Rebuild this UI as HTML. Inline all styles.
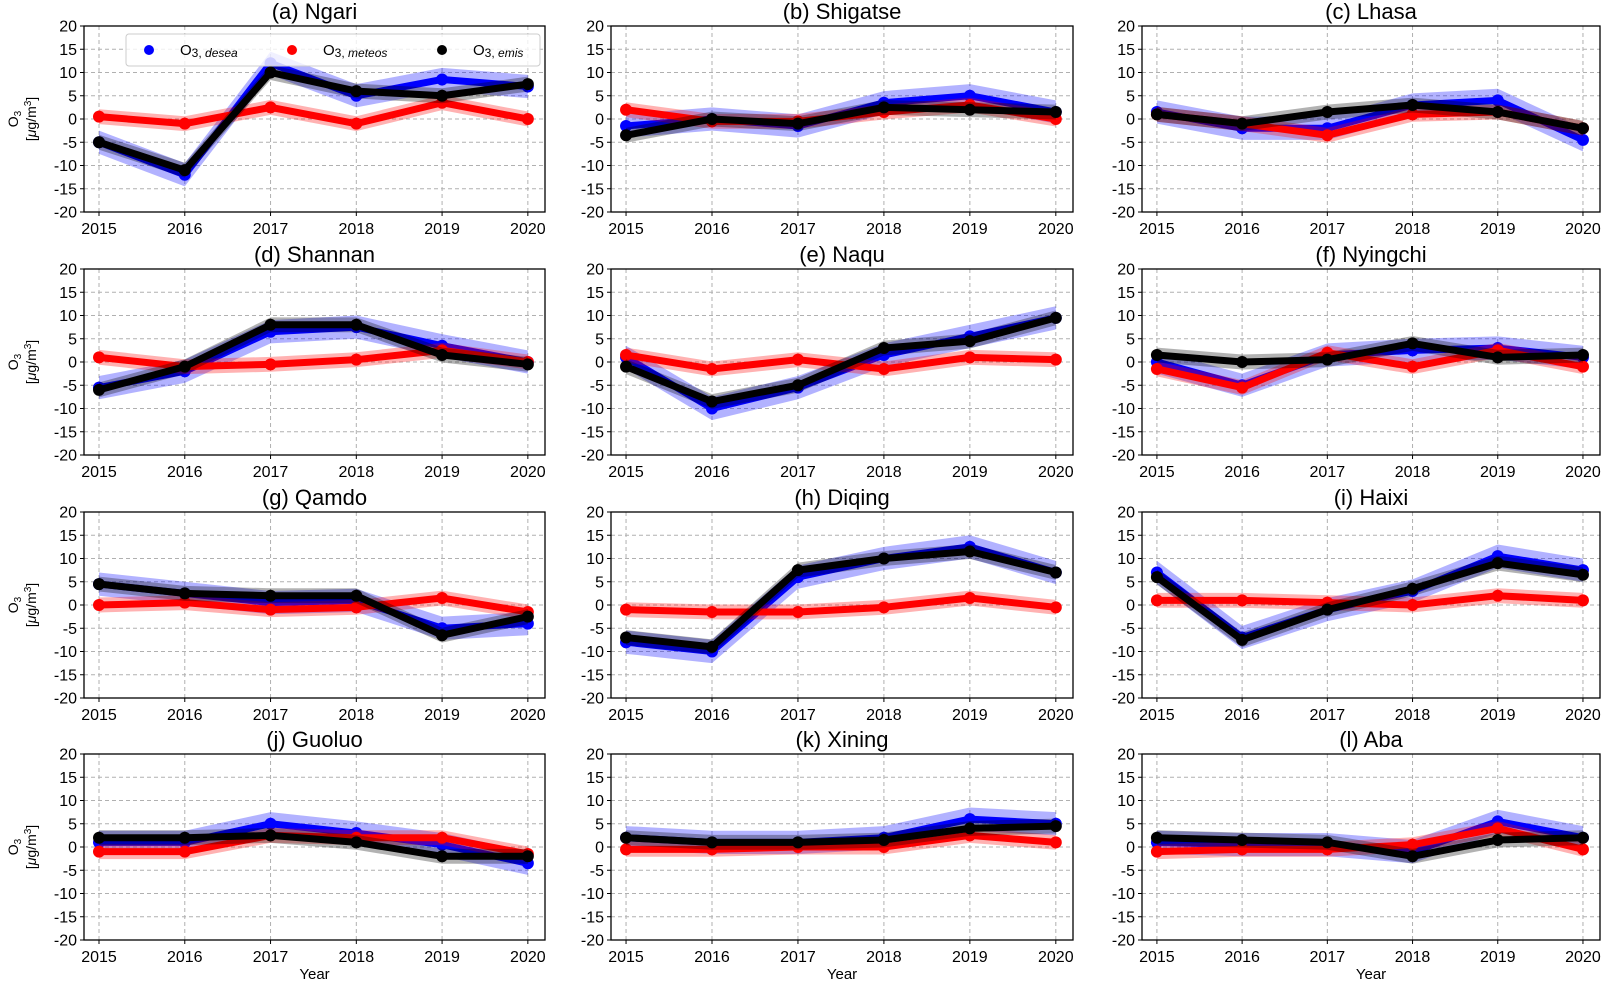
<!DOCTYPE html>
<html><head><meta charset="utf-8"><style>
body{margin:0;background:#fff;}
svg{display:block;font-family:"Liberation Sans",sans-serif;}
</style></head><body>
<svg id="fig" width="1602" height="982" viewBox="0 0 1602 982"></svg>
<script>
const years = [2015, 2016, 2017, 2018, 2019, 2020];
const yTicks = [20, 15, 10, 5, 0, -5, -10, -15, -20];
const titles = ["(a) Ngari","(b) Shigatse","(c) Lhasa","(d) Shannan","(e) Naqu","(f) Nyingchi","(g) Qamdo","(h) Diqing","(i) Haixi","(j) Guoluo","(k) Xining","(l) Aba"];
const deseaVals = [
 [-5,-12,12,5,8.5,7],[-1.5,0,-1.5,3.5,5,1.5],[1.5,-2,-2,3,4,-4.5],
 [-5.5,-2,6.5,7.5,3.5,0],[1,-10,-5.5,1.5,5.5,9.5],[0,-5,1.5,2.5,3,1],
 [4.5,2.5,0.5,1,-5,-4],[-8,-10,6,10,12.5,7],[7,-7,-1,3,10.5,7.5],
 [1,1,5,3,0.5,-3.5],[2,1,1,2,6,5],[1,0.5,0.5,-1,5.5,2]];
const meteosVals = [
 [0.5,-1,2.5,-1,3.5,0],[2,-0.5,-0.5,1.5,3,0],[1,-1,-3.5,1,1.5,-2],
 [1,-1,-0.5,0.5,2.5,0],[1.5,-1.5,0.5,-1.5,1,0.5],[-1.5,-5.5,2,-1,2.5,-1],
 [0,0.5,-1,-0.5,1.5,-1.5],[-1,-1.5,-1.5,-0.5,1.5,-0.5],[1,1,0.5,0,2,1],
 [-1,-1,2.5,2,2,-1.5],[-0.5,-0.5,0,0,2.5,1],[-1,-0.5,-0.5,0.5,4,-0.5]];
const emisVals = [
 [-5,-11,10,6,5,7.5],[-3.5,0,-1,2.5,2,1.5],[1,-1,1.5,3,1.5,-2],
 [-6,-1,8,8,1.5,-0.5],[-1,-8.5,-5,3,4.5,9.5],[1.5,0,0.5,4,1,1.5],
 [4.5,2.5,2,2,-6.5,-2.5],[-7,-9,7.5,10,11.5,7],[6,-7.5,-1,3.5,9,6.5],
 [2,2,2.5,1,-2,-2],[2,1,1,1.5,4,4.5],[2,1.5,1,-2,1.5,2]];
const bandHalf = [2.5, 1.6, 1.6];

const NS="http://www.w3.org/2000/svg";
const svg=document.getElementById('fig');
function mk(tag,attrs,parent){const e=document.createElementNS(NS,tag);for(const k in attrs)e.setAttribute(k,attrs[k]);(parent||svg).appendChild(e);return e;}
const colL=[84,611,1142], colR=[545,1073,1600];
const rowT=[26,269,512,754], H=186;
const seriesColors=[["#0000ff","rgba(0,0,255,0.3)"],["#ff0000","rgba(255,0,0,0.3)"],["#000000","rgba(0,0,0,0.3)"]];
const seriesNames=["desea","meteos","emis"];
for(let p=0;p<12;p++){
  const r=Math.floor(p/3), c=p%3;
  const L=colL[c], R=colR[c], T=rowT[r], B=T+H;
  const x0=2014.825, x1=2020.2;
  const X=v=>L+(v-x0)/(x1-x0)*(R-L);
  const Y=v=>T+(20-v)/40*H;
  const g=mk('g',{});
  
  
  const t=mk('text',{x:(L+R)/2,y:T-7,'text-anchor':'middle','font-size':22,fill:'#000'},g);
  t.textContent=titles[p];
  
  
  yTicks.forEach(v=>{
    const l=mk('line',{x1:L,x2:R,y1:Y(v),y2:Y(v),stroke:'#b0b0b0','stroke-dasharray':'4,3','stroke-width':1},g);
    
    mk('line',{x1:L-4,x2:L,y1:Y(v),y2:Y(v),stroke:'#000'},g);
    const tl=mk('text',{x:L-7,y:Y(v)+5.5,'text-anchor':'end','font-size':16},g);
    tl.textContent=v;
    
  });
  years.forEach(v=>{
    const l=mk('line',{x1:X(v),x2:X(v),y1:T,y2:B,stroke:'#b0b0b0','stroke-dasharray':'4,3','stroke-width':1},g);
    
    mk('line',{x1:X(v),x2:X(v),y1:B,y2:B+4,stroke:'#000'},g);
    const tl=mk('text',{x:X(v),y:B+22,'text-anchor':'middle','font-size':16},g);
    tl.textContent=v;
    
  });
  const all=[deseaVals[p],meteosVals[p],emisVals[p]];
  all.forEach((vals,s)=>{
    const h=bandHalf[s];
    let d='M'+years.map((yr,i)=>X(yr)+','+Y(vals[i]+h)).join('L')+'L'+years.slice().reverse().map((yr,j)=>{const i=5-j;return X(yr)+','+Y(vals[i]-h);}).join('L')+'Z';
    const band=mk('path',{d:d,fill:seriesColors[s][1],stroke:'none'},g);
    
    const line=mk('polyline',{points:years.map((yr,i)=>X(yr)+','+Y(vals[i])).join(' '),fill:'none',stroke:seriesColors[s][0],'stroke-width':7,'stroke-linejoin':'round'},g);
    
    years.forEach((yr,i)=>{
      const m=mk('circle',{cx:X(yr),cy:Y(vals[i]),r:6,fill:seriesColors[s][0]},g);
      
    });
  });
  const fr=mk('rect',{x:L,y:T,width:R-L,height:H,fill:'none',stroke:'#000','stroke-width':1.3},g);
  
  if(c===0){
    const cy=(T+B)/2;
    const yl=mk('text',{transform:`translate(${L-66},${cy}) rotate(-90)`,'text-anchor':'middle','font-size':14},g);
    yl.innerHTML='O<tspan font-size="10" dy="3">3</tspan>';
    
    const yl2=mk('text',{transform:`translate(${L-48},${cy}) rotate(-90)`,'text-anchor':'middle','font-size':14},g);
    yl2.innerHTML='[<tspan font-style="italic">μ</tspan>g/m<tspan font-size="10" dy="-5">3</tspan><tspan dy="5">]</tspan>';
    
  }
  if(r===3){
    const xl=mk('text',{x:(L+R)/2,y:979,'text-anchor':'middle','font-size':15},g);
    xl.textContent='Year';
    
  }
}
const lg=mk('g',{});

mk('rect',{x:126,y:34,width:414,height:32,rx:3,fill:'rgba(255,255,255,0.8)',stroke:'#ccc'},lg);
const legX=[149,292,442];
const legSub=['desea','meteos','emis'];
legX.forEach((x,s)=>{
  const c=mk('circle',{cx:x,cy:50,r:5,fill:seriesColors[s][0]},lg);
  
  const t=mk('text',{x:x+31,y:55,'font-size':15},lg);
  t.innerHTML='O<tspan font-size="12" dy="2">3,</tspan><tspan font-size="12" font-style="italic"> '+legSub[s]+'</tspan>';
  
});
</script>
</body></html>
